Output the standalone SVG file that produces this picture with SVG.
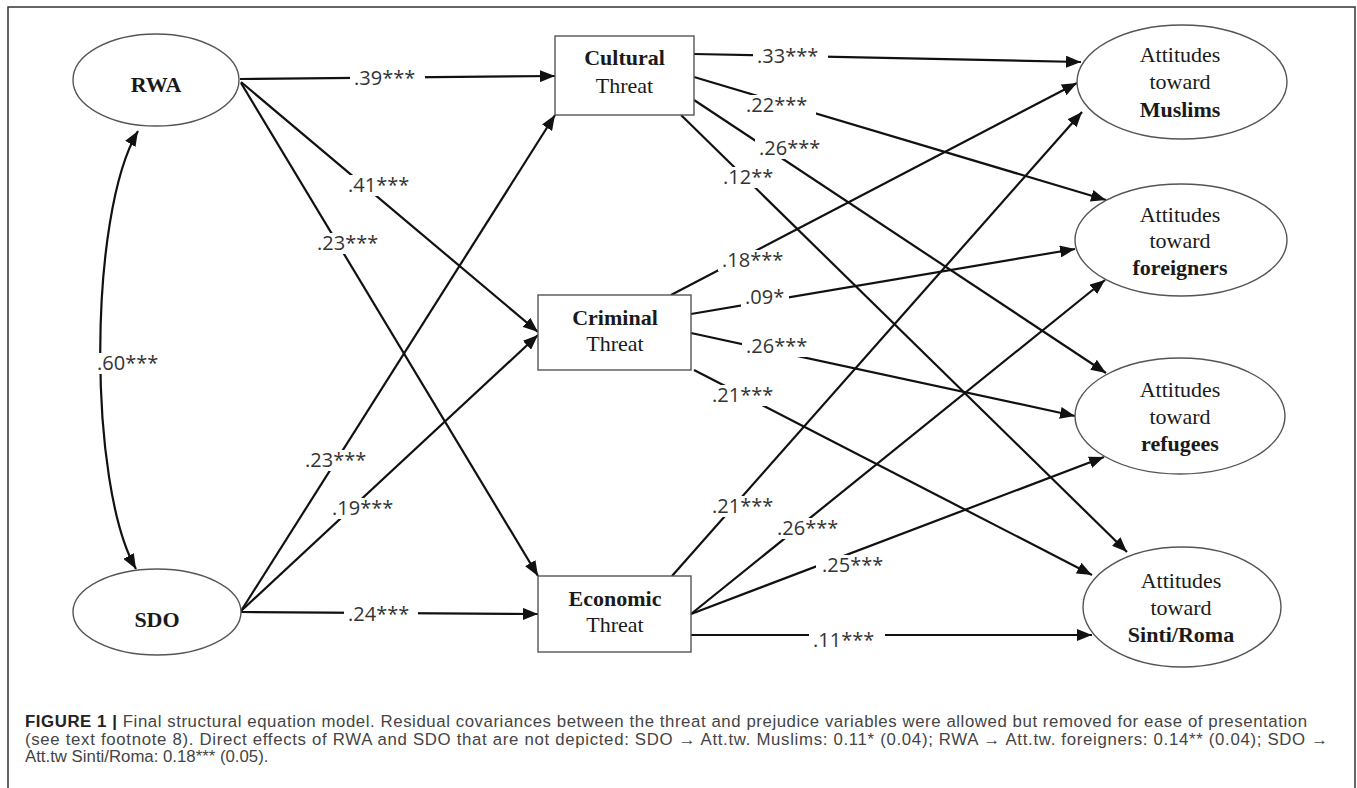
<svg xmlns="http://www.w3.org/2000/svg" width="1357" height="788" viewBox="0 0 1357 788">
<style>
.node{fill:#fff;stroke:#555;stroke-width:1.4}
.lbl{font-family:"Liberation Serif","Times New Roman",serif;font-size:22px;fill:#1a1a1a;text-anchor:middle}
.b{font-weight:bold}
.edge{fill:none;stroke:#111;stroke-width:2.2}
.el{font-family:"Open Sans","Liberation Sans",sans-serif;font-size:20px;fill:#333}
.bg{fill:#fff}
.cap{font-family:"Liberation Sans",Arial,sans-serif;font-size:16.8px;fill:#444}
</style>
<defs>
<marker id="ah" markerUnits="userSpaceOnUse" markerWidth="16" markerHeight="12" refX="15" refY="6" orient="auto-start-reverse">
<path d="M0,0 L15,6 L0,12 z" fill="#111"/>
</marker>
</defs>
<rect x="8" y="7" width="1347" height="800" fill="#fff" stroke="#333" stroke-width="1.5"/>

<g id="connectors">
<path class="edge" d="M138,131 C88,215 88,485 136,569" marker-start="url(#ah)" marker-end="url(#ah)"/>
<line class="edge" x1="240" y1="79" x2="555" y2="76" marker-end="url(#ah)"/>
<line class="edge" x1="241" y1="82" x2="538" y2="332" marker-end="url(#ah)"/>
<line class="edge" x1="241" y1="83" x2="538" y2="576" marker-end="url(#ah)"/>
<line class="edge" x1="241" y1="611" x2="555" y2="115" marker-end="url(#ah)"/>
<line class="edge" x1="241" y1="611" x2="538" y2="335" marker-end="url(#ah)"/>
<line class="edge" x1="241" y1="612" x2="538" y2="614" marker-end="url(#ah)"/>
<line class="edge" x1="694" y1="54" x2="1081" y2="62" marker-end="url(#ah)"/>
<line class="edge" x1="694" y1="77" x2="1106" y2="200" marker-end="url(#ah)"/>
<line class="edge" x1="694" y1="100" x2="1106" y2="373" marker-end="url(#ah)"/>
<line class="edge" x1="681" y1="115" x2="1127" y2="552" marker-end="url(#ah)"/>
<line class="edge" x1="671" y1="295" x2="1077" y2="83" marker-end="url(#ah)"/>
<line class="edge" x1="691" y1="314" x2="1075" y2="249" marker-end="url(#ah)"/>
<line class="edge" x1="691" y1="333" x2="1075" y2="416" marker-end="url(#ah)"/>
<line class="edge" x1="694" y1="370" x2="1092" y2="575" marker-end="url(#ah)"/>
<line class="edge" x1="672" y1="576" x2="1082" y2="112" marker-end="url(#ah)"/>
<line class="edge" x1="691" y1="614" x2="1105" y2="280" marker-end="url(#ah)"/>
<line class="edge" x1="691" y1="614" x2="1104" y2="457" marker-end="url(#ah)"/>
<line class="edge" x1="691" y1="635" x2="1092" y2="635" marker-end="url(#ah)"/>

<g id="edge-labels">
<rect class="bg" x="93" y="353" width="70" height="21"/><text class="el" x="97" y="370">.60***</text>
<rect class="bg" x="350" y="68" width="75" height="21"/><text class="el" x="354" y="85">.39***</text>
<rect class="bg" x="344" y="175" width="74" height="21"/><text class="el" x="348" y="192">.41***</text>
<rect class="bg" x="313" y="233" width="74" height="21"/><text class="el" x="317" y="250">.23***</text>
<rect class="bg" x="301" y="450" width="74" height="21"/><text class="el" x="305" y="467">.23***</text>
<rect class="bg" x="328" y="498" width="74" height="21"/><text class="el" x="332" y="515">.19***</text>
<rect class="bg" x="344" y="604" width="74" height="21"/><text class="el" x="348" y="621">.24***</text>
<rect class="bg" x="753" y="46" width="75" height="21"/><text class="el" x="757" y="63">.33***</text>
<rect class="bg" x="742" y="95" width="74" height="21"/><text class="el" x="746" y="112">.22***</text>
<rect class="bg" x="755" y="138" width="74" height="21"/><text class="el" x="759" y="155">.26***</text>
<rect class="bg" x="719" y="167" width="58" height="21"/><text class="el" x="723" y="184">.12**</text>
<rect class="bg" x="718" y="250" width="74" height="21"/><text class="el" x="722" y="267">.18***</text>
<rect class="bg" x="741" y="287" width="48" height="21"/><text class="el" x="745" y="304">.09*</text>
<rect class="bg" x="742" y="336" width="74" height="21"/><text class="el" x="746" y="353">.26***</text>
<rect class="bg" x="708" y="385" width="73" height="21"/><text class="el" x="712" y="402">.21***</text>
<rect class="bg" x="708" y="496" width="73" height="21"/><text class="el" x="712" y="513">.21***</text>
<rect class="bg" x="773" y="518" width="75" height="21"/><text class="el" x="777" y="535">.26***</text>
<rect class="bg" x="816" y="555" width="80" height="21"/><text class="el" x="822" y="572">.25***</text>
<rect class="bg" x="809" y="630" width="76" height="21"/><text class="el" x="813" y="647">.11***</text>
</g>
</g>

<g id="RWA"><ellipse class="node" cx="156" cy="80" rx="83" ry="46"/><text class="lbl b" x="156" y="92">RWA</text></g>
<g id="SDO"><ellipse class="node" cx="157" cy="612" rx="84" ry="43"/><text class="lbl b" x="157" y="627">SDO</text></g>

<g id="cultural"><rect class="node" x="555" y="36" width="139" height="79"/><text class="lbl b" x="624.5" y="65">Cultural</text><text class="lbl" x="624.5" y="93">Threat</text></g>
<g id="criminal"><rect class="node" x="538" y="295" width="153" height="75"/><text class="lbl b" x="615" y="325">Criminal</text><text class="lbl" x="615" y="351">Threat</text></g>
<g id="economic"><rect class="node" x="538" y="576" width="153" height="76"/><text class="lbl b" x="615" y="606">Economic</text><text class="lbl" x="615" y="632">Threat</text></g>

<g id="muslims"><ellipse class="node" cx="1182" cy="82" rx="105" ry="57"/><text class="lbl" x="1180" y="62">Attitudes</text><text class="lbl" x="1180" y="89">toward</text><text class="lbl b" x="1180" y="117">Muslims</text></g>
<g id="foreigners"><ellipse class="node" cx="1181" cy="240" rx="106" ry="56"/><text class="lbl" x="1180" y="222">Attitudes</text><text class="lbl" x="1180" y="248">toward</text><text class="lbl b" x="1180" y="275">foreigners</text></g>
<g id="refugees"><ellipse class="node" cx="1180" cy="416" rx="105" ry="58"/><text class="lbl" x="1180" y="397">Attitudes</text><text class="lbl" x="1180" y="424">toward</text><text class="lbl b" x="1180" y="451">refugees</text></g>
<g id="sinti-roma"><ellipse class="node" cx="1182" cy="607" rx="99" ry="60"/><text class="lbl" x="1181" y="588">Attitudes</text><text class="lbl" x="1181" y="615">toward</text><text class="lbl b" x="1181" y="642">Sinti/Roma</text></g>

<g id="caption">
<text class="cap" x="25" y="727" textLength="1282" lengthAdjust="spacing"><tspan font-weight="bold" fill="#222">FIGURE 1 |</tspan> Final structural equation model. Residual covariances between the threat and prejudice variables were allowed but removed for ease of presentation</text>
<text class="cap" x="25" y="744.5" textLength="1303" lengthAdjust="spacing">(see text footnote 8). Direct effects of RWA and SDO that are not depicted: SDO → Att.tw. Muslims: 0.11* (0.04); RWA → Att.tw. foreigners: 0.14** (0.04); SDO →</text>
<text class="cap" x="25" y="762">Att.tw Sinti/Roma: 0.18*** (0.05).</text>
</g>
</svg>
